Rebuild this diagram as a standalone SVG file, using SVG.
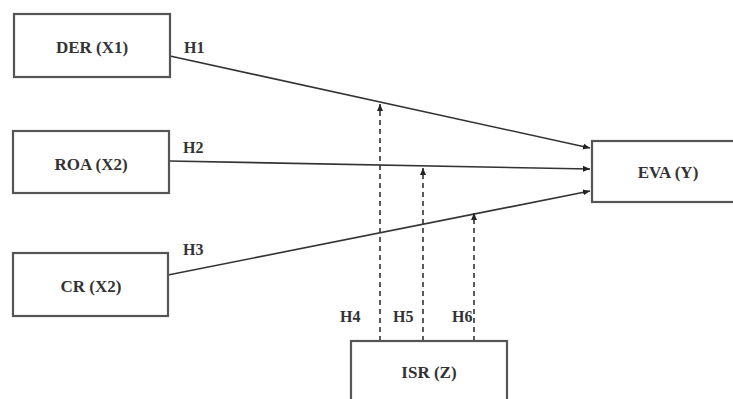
<svg xmlns="http://www.w3.org/2000/svg" width="733" height="399" viewBox="0 0 733 399">
<style>
.box{fill:#fff;stroke:#555;stroke-width:2.2}
.t{font-family:"Liberation Serif","Times New Roman",serif;font-weight:bold;font-size:17px;fill:#333;text-anchor:middle}
.l{font-family:"Liberation Serif","Times New Roman",serif;font-weight:bold;font-size:16px;fill:#333}
.c{stroke:#333;stroke-width:1.6;fill:none}
.d{stroke:#333;stroke-width:1.6;fill:none;stroke-dasharray:5 4}
</style>
<defs>
<marker id="a" markerWidth="8" markerHeight="8" refX="7" refY="4" orient="auto" markerUnits="userSpaceOnUse">
<path d="M0,1 L7,4 L0,7 Z" fill="#222"/>
</marker>
</defs>
<rect width="733" height="399" fill="#fff"/>
<g id="connectors">
<line class="c" x1="170" y1="56" x2="590" y2="148" marker-end="url(#a)"/>
<line class="c" x1="169" y1="161" x2="590" y2="169" marker-end="url(#a)"/>
<line class="c" x1="168" y1="275" x2="590" y2="191" marker-end="url(#a)"/>
<line class="d" x1="380" y1="341" x2="380" y2="104" marker-end="url(#a)"/>
<line class="d" x1="423" y1="341" x2="423" y2="168" marker-end="url(#a)"/>
<line class="d" x1="474" y1="341" x2="474" y2="213" marker-end="url(#a)"/>
<text class="l" x="184" y="53">H1</text>
<text class="l" x="183" y="153">H2</text>
<text class="l" x="183" y="255">H3</text>
<text class="l" x="340" y="322">H4</text>
<text class="l" x="393" y="322">H5</text>
<text class="l" x="452" y="322">H6</text>
</g>
<g id="der"><rect class="box" x="14" y="14" width="156" height="63"/><text class="t" x="92" y="53">DER (X1)</text></g>
<g id="roa"><rect class="box" x="13" y="131" width="156" height="62"/><text class="t" x="91" y="170">ROA (X2)</text></g>
<g id="cr"><rect class="box" x="13" y="253" width="155" height="63"/><text class="t" x="91" y="292">CR (X2)</text></g>
<g id="eva"><rect class="box" x="592" y="141" width="145" height="61"/><text class="t" x="668" y="178">EVA (Y)</text></g>
<g id="isr"><rect class="box" x="351" y="341" width="156" height="63"/><text class="t" x="429" y="378">ISR (Z)</text></g>
</svg>
